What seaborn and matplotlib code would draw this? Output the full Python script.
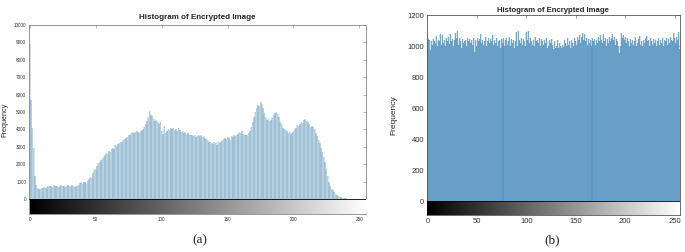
import seaborn as sns
import numpy as np
import matplotlib.pyplot as plt

# gray levels and counts
levels = list(range(256))

plain_counts = [
    8950, 5700, 4050, 2950, 1300,
    780, 620, 560, 600, 640,
    610, 680, 650, 700, 720, 760, 740, 700, 780, 760,
    720, 760, 700, 740, 780, 730, 760, 700, 740, 800,
    760, 720, 780, 740, 700, 760, 720, 800,
    900, 960, 870, 980, 1000, 940, 1050, 1150, 1250, 1200,
    1500, 1650, 1750, 1900, 2050, 2150, 2250, 2300, 2400, 2500,
    2650, 2600, 2750, 2700, 2850, 2950, 2900, 3100, 3050, 3150,
    3200, 3300, 3250, 3400, 3450, 3500, 3550, 3650, 3700, 3800,
    3850, 3800, 3850, 3900, 3850, 3800, 3900, 3950, 4000, 4150,
    4300, 4500, 4700, 5050, 4800, 4750, 4600, 4500, 4550, 4400,
    4300, 4450, 3900, 3750, 4200, 3800, 3900, 4000, 3950, 4050,
    4000, 4100, 3950, 4000, 3900, 4050, 3950, 3850, 3900, 3800,
    3850, 3750, 3800, 3700, 3650, 3700, 3600, 3650, 3550, 3600,
    3700, 3600, 3650, 3550, 3600, 3500, 3450, 3400, 3300, 3250,
    3200, 3150, 3250, 3200, 3100, 3250, 3200, 3300, 3400, 3450,
    3500, 3450, 3550, 3500, 3400, 3600, 3550, 3650, 3600, 3700,
    3750, 3850, 3800, 3900, 3750, 3700, 3650, 3700, 3800, 3900,
    4150, 4400, 4700, 5000, 5200, 5400, 5350, 5550, 5450, 5200,
    4950, 4700, 4550, 4600, 4500, 4550, 4700, 4850, 4950, 5000,
    4900, 4700, 4400, 4300, 4100, 4000, 3950, 3900, 3800, 3850,
    3750, 3800, 3900, 4000, 4100, 4250, 4200, 4300, 4400, 4350,
    4550, 4600, 4500, 4450, 4300, 4150, 4200, 4150, 4000, 3800,
    3600, 3400, 3200, 2950, 2700, 2400, 2100, 1700, 1300, 1000,
    750, 600, 500, 400, 300, 230, 180, 130, 100, 70,
    50, 40, 30, 20, 15, 10, 5, 0, 0, 0,
    0, 0, 0, 0, 0, 0, 0, 0,
]

enc_counts = [
    1060, 1045, 1040, 975, 1030, 1010, 1045, 1035, 1020, 1065, 1000, 1040, 1030, 1075, 1010, 1070,
    1020, 1040, 1000, 1050, 1030, 1060, 1015, 1080, 1030, 1045, 1000, 1040, 1085, 1050, 1095, 1040,
    1010, 1050, 1030, 990, 1045, 1020, 1035, 1040, 1000, 1050, 1030, 1045, 1020, 1040, 1010, 1055,
    960, 1040, 1000, 1050, 1030, 1045, 1075, 1020, 1040, 1010, 1030, 1060, 1000, 1035, 1050, 1020,
    1045, 1030, 1070, 1010, 1040, 1020, 1050, 1000, 1035, 1040, 990, 1045, 1020, 1055, 1000, 1040,
    1050, 1010, 1030, 1060, 1000, 1045, 1020, 1040, 990, 1030, 1090, 1000, 1095, 1040, 1020, 1050,
    1010, 1045, 1030, 1000, 1090, 1040, 1095, 1020, 1050, 1030, 1010, 1040, 1000, 1060, 1030, 1040,
    1020, 1050, 1000, 1045, 1030, 1010, 1040, 1020, 1050, 990, 1030, 1000, 1040, 1020, 1045, 1010,
    980, 1030, 985, 1000, 1040, 990, 1020, 1000, 985, 1010, 995, 1040, 1020, 1000, 1050, 1010,
    1030, 990, 1040, 1020, 1000, 1050, 1030, 1010, 1060, 1040, 1070, 1020, 1060, 1085, 1040, 1075,
    1030, 1050, 1010, 1045, 1020, 1040, 1000, 1050, 1030, 1045, 1010, 1040, 1020, 1060, 1030, 1070,
    1040, 1020, 1075, 1030, 1050, 1000, 1045, 1020, 1060, 1030, 1050, 1080, 1040, 1060, 1010, 1045,
    1030, 1000, 955, 1000, 1085, 1050, 1070, 1040, 1060, 1020, 1050, 1030, 1000, 1045, 1020, 1040,
    1010, 1030, 1060, 1000, 1040, 1020, 1045, 1065, 1010, 1030, 1000, 1040, 1020, 1050, 1065, 1030,
    1040, 1000, 1050, 1030, 1010, 1045, 1020, 1040, 1000, 1030, 1050, 1010, 1040, 1020, 1055, 1000,
    1040, 1030, 1050, 1010, 1045, 1020, 1060, 1040, 1030, 1085, 1050, 1020, 1060, 1040, 1090, 980,
]

plain_yticks = list(range(0, 10001, 1000))
enc_yticks = list(range(0, 1201, 200))
xticks = [0, 50, 100, 150, 200, 250]

sns.set_style("white")
plt.rcParams['font.family'] = ['Liberation Sans', 'DejaVu Sans']

fig = plt.figure(figsize=(6.85, 2.52), dpi=100)
ax1 = fig.add_axes([0.0423, 0.151, 0.492, 0.750])
ax2 = fig.add_axes([0.623, 0.147, 0.369, 0.793])

gradient = np.linspace(0, 1, 256)[None, :]

def panel(ax, counts, ylo, ytop, yticks, fill, stem, stem_lw, fs, spine_col):
	# light filled bins, then thin darker stems on top
	sns.histplot(x=levels, weights=counts, discrete=True, shrink=1.0,
		color=fill, linewidth=0, alpha=1, ax=ax)
	ax.vlines(levels, 0, counts, colors=stem, lw=stem_lw, zorder=2)
	ax.imshow(gradient, cmap="gray", extent=[0, 255, ylo, 0], aspect="auto", zorder=3)
	ax.axhline(0, color="black", lw=0.6, zorder=4)
	ax.set_xlim(-0.6, 255)
	ax.set_ylim(ylo, ytop)
	ax.set_xticks(xticks)
	ax.set_yticks(yticks)
	ax.tick_params(direction="in", length=2, width=0.4, labelsize=fs,
		top=True, right=True, colors=spine_col, labelcolor="#333333", pad=2)
	for s in ax.spines.values():
		s.set_linewidth(0.6)
		s.set_color(spine_col)
		s.set_visible(True)
	ax.set_xlabel("")

panel(ax1, plain_counts, -860, 10000, plain_yticks, "#d3e4ee", "#5f93b6", 0.35, 3.3, "#888888")
ax1.set_title("Histogram of Encrypted Image", fontsize=5.8, fontweight="bold", pad=4)
ax1.set_ylabel("Frequency", fontsize=5.2)
ax1.yaxis.set_label_coords(-0.062, 0.5)

panel(ax2, enc_counts, -90, 1200, enc_yticks, "#93b6cb", "#1f78c0", 0.28, 5.5, "#555555")
ax2.set_title("Histogram of Encrypted Image", fontsize=5.6, fontweight="bold", pad=2)
ax2.set_ylabel("Frequency", fontsize=6)
ax2.yaxis.set_label_coords(-0.115, 0.5)

fig.text(0.292, 0.035, "(a)", fontsize=9.5, family=["Liberation Serif", "DejaVu Serif"], ha="center")
fig.text(0.806, 0.035, "(b)", fontsize=9.5, family=["Liberation Serif", "DejaVu Serif"], ha="center")

plt.savefig("out.png", dpi=100)
